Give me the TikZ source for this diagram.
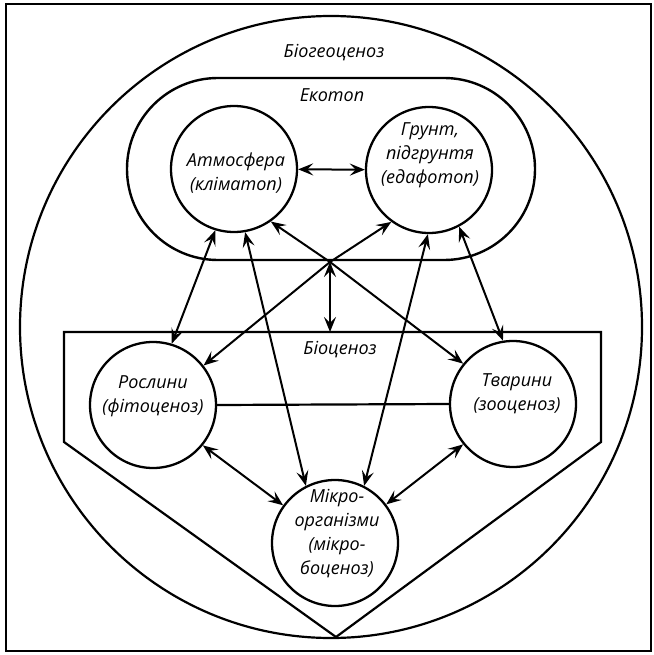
\documentclass[tikz,border=0pt]{standalone}
\usepackage{fontspec}
\setmainfont{Open Sans}
\usetikzlibrary{arrows.meta}
\begin{document}
\begin{tikzpicture}[x=1pt,y=-1pt,
  line width=2.2pt,
  unit/.style={circle,draw,line width=2.3pt,minimum size=126pt,inner sep=0pt},
  lbl/.style={font=\fontsize{18}{24}\selectfont\itshape,align=center,inner sep=0pt},
  link/.style={line width=2pt,{Stealth[length=15pt,width=12pt,inset=6pt]}-{Stealth[length=15pt,width=12pt,inset=6pt]}}]
\useasboundingbox (0,0) rectangle (653,655);
\draw[fill=white,draw=none] (0,0) rectangle (653,655);
% frame
\draw[line width=2.4pt] (6,4) rectangle (651,651);
% biogeocenosis circle
\draw[line width=2.2pt] (331,327) circle[radius=311];
% ecotope
\draw[line width=2.4pt,rounded corners=90.9pt] (127,78) rectangle (535,260);
% biocenosis pentagon
\draw[line width=2.2pt] (64,332) -- (601,332) -- (601,442) -- (336,637) -- (64,442) -- cycle;
% units
\node[unit] (atm) at (234,169) {};
\node[unit] (grunt) at (429,170) {};
\node[unit] (ros) at (153,405) {};
\node[unit] (tv) at (513,404) {};
\node[unit] (mikro) at (335,543) {};
% labels
\node[lbl] (bgc) at (334,53) {Біогеоценоз};
\node[lbl] (eco) at (332,95) {Екотоп};
\node[lbl] (bio) at (340,350) {Біоценоз};
\node[lbl] (atmT) at (236,173) {Атмосфера\\(кліматоп)};
\node[lbl] (gruntT) at (430,155) {Грунт,\\підгрунтя\\(едафотоп)};
\node[lbl] (rosT) at (153,396) {Рослини\\(фітоценоз)};
\node[lbl] (tvT) at (517,394) {Тварини\\(зооценоз)};
\node[lbl] (mikroT) at (337,534) {Мікро-\\організми\\(мікро-\\боценоз)};
% hub
\coordinate (hub) at (330,262);
\coordinate (hubend) at (330,332);
% connectors
\draw (ros.0) -- (tv.180);
\draw[link] (atm) -- (grunt);
\draw[link] (atm.253) -- (ros.73);
\draw[link] (atm.-80) -- (mikro.117);
\draw[link] (atm.-55) -- (hub) -- (tv.141);
\draw[link] (grunt.-126) -- (hub) -- (ros.38);
\draw[link] (grunt.-91) -- (mikro.63);
\draw[link] (grunt.-62) -- (tv.99);
\draw[link] (ros.-39) -- (mikro.144);
\draw[link] (tv.-141) -- (mikro.37);
\draw[link] (hub) -- (hubend);
\end{tikzpicture}
\end{document}
